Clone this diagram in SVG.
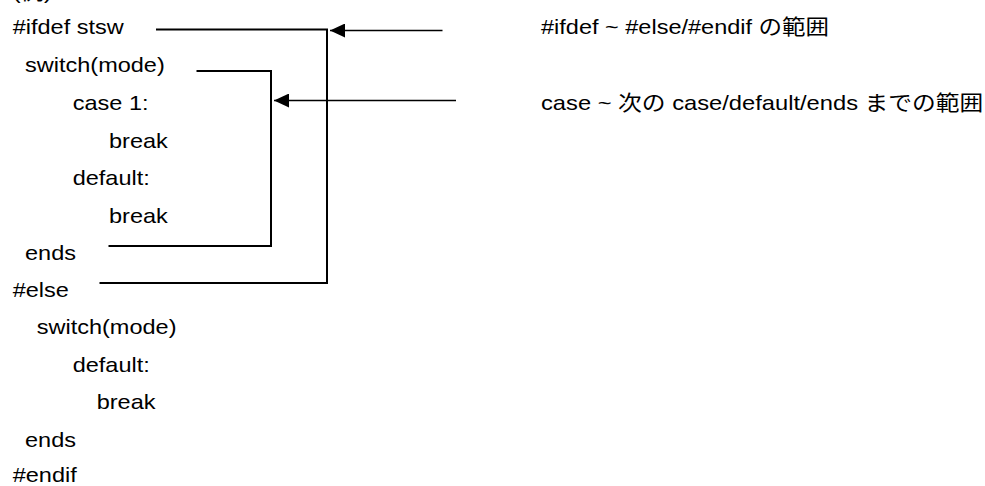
<svg xmlns="http://www.w3.org/2000/svg" width="985" height="486" viewBox="0 0 985 486">
  <style>
    text { font-family: "Liberation Sans", Arial, "Noto Sans CJK JP", sans-serif; font-size: 21px; fill: #000; }
    .br { fill: none; stroke: #000; stroke-width: 2; stroke-linejoin: miter; }
    .ar { fill: none; stroke: #000; stroke-width: 1.4; }
  </style>
  <defs>
    <marker id="head" markerWidth="16" markerHeight="14" refX="15" refY="7" orient="auto" markerUnits="userSpaceOnUse">
      <path d="M0,0 L15,7 L0,14 Z" fill="#000"/>
    </marker>
  </defs>

  <rect width="985" height="486" fill="#fff"/>

  <!-- code listing, one line per group (text is slightly widened) -->
  <g id="title"><text transform="translate(12.7,-1) scale(1.12,1)">(例)</text></g>
  <g id="ifdef"><text transform="translate(12.7,34) scale(1.12,1)">#ifdef stsw</text></g>
  <g id="switch1"><text transform="translate(25,72) scale(1.12,1)">switch(mode)</text></g>
  <g id="case1"><text transform="translate(72.7,110) scale(1.12,1)">case 1:</text></g>
  <g id="break1"><text transform="translate(109,148) scale(1.12,1)">break</text></g>
  <g id="default1"><text transform="translate(72.7,185) scale(1.12,1)">default:</text></g>
  <g id="break2"><text transform="translate(109,222.7) scale(1.12,1)">break</text></g>
  <g id="ends1"><text transform="translate(25,259.5) scale(1.12,1)">ends</text></g>
  <g id="else"><text transform="translate(12.7,297) scale(1.12,1)">#else</text></g>
  <g id="switch2"><text transform="translate(36.7,334) scale(1.12,1)">switch(mode)</text></g>
  <g id="default2"><text transform="translate(72.7,371.5) scale(1.12,1)">default:</text></g>
  <g id="break3"><text transform="translate(96.7,409) scale(1.12,1)">break</text></g>
  <g id="ends2"><text transform="translate(25,446.5) scale(1.12,1)">ends</text></g>
  <g id="endif"><text transform="translate(12.7,482) scale(1.12,1)">#endif</text></g>

  <!-- explanations on the right -->
  <g id="label-ifdef"><text transform="translate(541,33.5) scale(1.12,1)">#ifdef ~ #else/#endif の範囲</text></g>
  <g id="label-case"><text transform="translate(541,110) scale(1.13,1)">case ~ 次の case/default/ends までの範囲</text></g>

  <!-- range brackets and pointer arrows -->
  <g id="connectors">
    <polyline class="br" points="156,29.5 327,29.5 327,283 99.5,283"/>
    <polyline class="br" points="196.5,71 271,71 271,246 108.5,246"/>
    <line class="ar" x1="442.5" y1="30.5" x2="330" y2="30.5" marker-end="url(#head)"/>
    <line class="ar" x1="456" y1="100.5" x2="274" y2="100.5" marker-end="url(#head)"/>
  </g>
</svg>
